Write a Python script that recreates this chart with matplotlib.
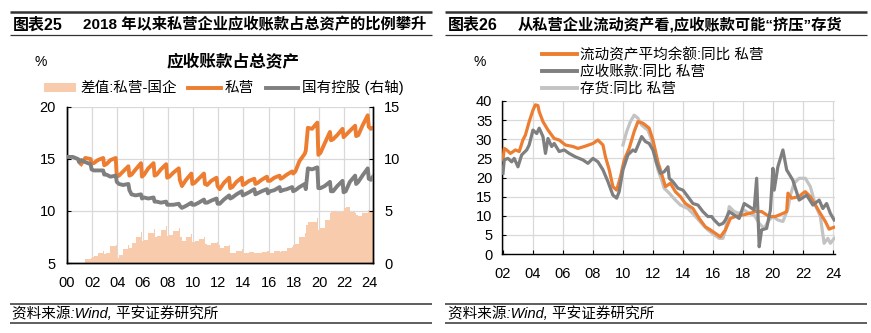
import numpy as np
import pandas as pd
import matplotlib
matplotlib.use("Agg")
import matplotlib.pyplot as plt
import matplotlib.dates as mdates
from matplotlib.lines import Line2D
from matplotlib.patches import Patch

plt.rcParams['font.family'] = ['Liberation Sans', 'Noto Sans CJK SC']

# ---------------- Left panel: receivables / total assets (%) ----------------
ratio_years = list(range(2000, 2025))
ratio_months = [2, 6, 11, 12]        # sampled months within each year
ratio_months_last = [2, 4]           # months available for the final year

nan = np.nan
# 私营 (left axis)
private_ratio = [
    nan, nan, nan, nan,          # 2000
    14.5, 15.1, 15.0, 14.6,      # 2001
    14.6, 14.9, 15.1, 14.4,      # 2002
    14.5, 14.9, 15.1, 13.3,      # 2003
    13.4, 13.8, 14.3, 13.4,      # 2004
    13.5, 14.0, 14.6, 13.3,      # 2005
    13.5, 14.1, 14.6, 13.4,      # 2006
    13.5, 14.0, 14.5, 13.2,      # 2007
    13.3, 13.7, 14.1, 13.0,      # 2008
    12.4, 13.0, 13.6, 12.6,      # 2009
    12.7, 13.1, 13.6, 12.6,      # 2010
    12.5, 12.9, 13.2, 12.4,      # 2011
    12.1, 12.7, 13.2, 12.2,      # 2012
    12.3, 12.8, 13.2, 12.5,      # 2013
    12.6, 12.9, 13.1, 12.6,      # 2014
    12.7, 13.0, 13.3, 12.9,      # 2015
    12.9, 13.2, 13.4, 13.1,      # 2016
    13.2, 13.5, 13.8, 13.6,      # 2017
    13.8, 14.8, 15.5, 15.8,      # 2018
    18.0, 17.9, 18.5, 15.4,      # 2019
    15.6, 16.5, 17.6, 16.8,      # 2020
    16.9, 17.3, 17.9, 17.1,      # 2021
    17.3, 17.7, 18.2, 17.2,      # 2022
    17.3, 18.2, 19.2, 18.1,      # 2023
    17.9, 18.0,                  # 2024
]
# 国有控股 (right axis)
state_ratio = [
    10.2, 10.2, 10.0, 9.7,       # 2000
    9.9, 9.7, 9.5, 9.0,          # 2001
    8.9, 8.9, 8.9, 8.5,          # 2002
    8.5, 8.3, 8.4, 7.8,          # 2003
    7.6, 7.5, 7.6, 7.0,          # 2004
    6.6, 6.5, 6.6, 6.2,          # 2005
    6.3, 6.2, 6.3, 5.9,          # 2006
    5.9, 5.8, 5.9, 5.6,          # 2007
    5.6, 5.6, 5.7, 5.5,          # 2008
    5.3, 5.5, 5.8, 5.6,          # 2009
    5.6, 5.8, 6.1, 5.8,          # 2010
    5.8, 6.0, 6.2, 5.7,          # 2011
    5.7, 6.1, 6.5, 6.2,          # 2012
    6.3, 6.6, 6.9, 6.5,          # 2013
    6.6, 6.8, 7.1, 6.6,          # 2014
    6.7, 6.9, 7.1, 6.7,          # 2015
    6.9, 7.0, 7.3, 6.9,          # 2016
    7.0, 7.1, 7.3, 6.9,          # 2017
    7.0, 7.3, 7.6, 7.1,          # 2018
    9.1, 9.0, 9.2, 7.2,          # 2019
    7.2, 7.4, 7.8, 6.9,          # 2020
    6.9, 7.4, 7.9, 6.8,          # 2021
    6.9, 7.8, 8.4, 7.6,          # 2022
    7.8, 8.4, 9.1, 8.1,          # 2023
    8.0, 8.3,                    # 2024
]

# ---------------- Right panel: YoY growth, private firms (%) ----------------
ca_dates = ["2002-01", "2002-02", "2002-04", "2002-07", "2002-11", "2003-02", "2003-05",
            "2003-07", "2003-10", "2004-01", "2004-03", "2004-05", "2004-06", "2004-09",
            "2005-01", "2005-06", "2005-10", "2006-03", "2006-09", "2007-01", "2007-07",
            "2008-01", "2008-05", "2008-09", "2008-11", "2009-02", "2009-05", "2009-08",
            "2009-11", "2010-02", "2010-06", "2010-10", "2011-01", "2011-05", "2011-07",
            "2011-10", "2012-01", "2012-05", "2012-09", "2012-11", "2013-03", "2013-07",
            "2013-11", "2014-03", "2014-09", "2015-02", "2015-07", "2015-11", "2016-03",
            "2016-07", "2016-11", "2017-03", "2017-07", "2018-01", "2018-06", "2018-11",
            "2019-04", "2019-10", "2020-03", "2020-09", "2020-12", "2021-01", "2021-04",
            "2021-10", "2022-01", "2022-03", "2022-07", "2022-11", "2023-03", "2023-07",
            "2023-10", "2024-01", "2024-02"]
ca_growth = [24.6, 27.6, 27.2, 26.3, 27.2, 26.8, 29.8,
             31.1, 34.6, 37.6, 39.0, 38.8, 37.2, 34.6,
             32.4, 30.2, 29.8, 28.5, 28.1, 27.6, 28.2,
             28.9, 29.8, 28.5, 25.4, 22.0, 17.6, 16.7,
             20.2, 24.6, 27.6, 32.0, 34.6, 34.2, 33.7,
             32.9, 29.8, 24.1, 19.8, 17.6, 18.5, 16.3,
             15.0, 13.2, 11.9, 9.3, 7.1, 6.3, 5.4,
             4.5, 6.3, 9.3, 9.8, 10.2, 10.6, 11.1,
             11.1, 9.8, 9.8, 10.6, 11.1, 15.9, 14.6,
             15.0, 15.9, 16.3, 15.0, 12.8, 10.6, 8.5,
             6.5, 6.9, 7.0]

ar_dates = ["2002-01", "2002-02", "2002-05", "2002-08", "2002-10", "2003-01", "2003-04",
            "2003-08", "2003-10", "2004-01", "2004-04", "2004-06", "2004-09", "2004-11",
            "2005-01", "2005-04", "2005-06", "2005-10", "2006-02", "2006-06", "2006-11",
            "2007-05", "2007-09", "2008-01", "2008-05", "2008-09", "2009-01", "2009-05",
            "2009-08", "2009-10", "2010-01", "2010-05", "2010-09", "2010-11", "2011-04",
            "2011-07", "2011-10", "2012-01", "2012-04", "2012-07", "2012-10", "2013-01",
            "2013-02", "2013-05", "2013-09", "2014-01", "2014-05", "2014-09", "2015-01",
            "2015-05", "2015-09", "2015-12", "2016-02", "2016-06", "2016-09", "2016-11",
            "2017-02", "2017-06", "2017-10", "2018-02", "2018-06", "2018-10", "2018-12",
            "2019-02", "2019-04", "2019-08", "2019-11", "2020-01", "2020-02", "2020-05",
            "2020-09", "2020-12", "2021-05", "2021-10", "2022-04", "2022-09", "2023-02",
            "2023-05", "2023-08", "2023-11", "2024-02"]
ar_growth = [21.1, 24.6, 25.0, 24.1, 25.0, 22.8, 25.9,
             27.2, 28.5, 32.4, 31.5, 32.9, 30.7, 26.3,
             30.2, 28.1, 28.9, 26.8, 27.2, 26.3, 25.4,
             24.6, 23.7, 25.0, 24.1, 22.0, 18.9, 15.4,
             14.6, 16.3, 22.0, 25.9, 27.2, 26.8, 30.7,
             29.4, 28.9, 27.2, 23.7, 21.1, 21.5, 22.8,
             19.8, 18.9, 17.2, 16.7, 15.0, 13.2, 12.8,
             11.1, 9.8, 9.8, 8.9, 7.6, 8.0, 8.9,
             11.1, 10.2, 9.3, 13.2, 12.4, 11.5, 19.8,
             1.9, 6.3, 6.7, 11.5, 22.4, 16.7, 22.8,
             27.2, 22.0, 19.3, 14.1, 15.4, 12.8, 14.1,
             11.9, 13.2, 10.6, 8.9]

inv_dates = ["2010-01", "2010-04", "2010-07", "2010-10", "2011-01", "2011-04", "2011-07",
             "2011-09", "2011-12", "2012-02", "2012-05", "2012-08", "2012-10", "2013-02",
             "2013-07", "2013-11", "2014-05", "2014-10", "2015-04", "2015-09", "2016-02",
             "2016-06", "2016-09", "2016-11", "2017-02", "2017-06", "2017-10", "2018-02",
             "2018-06", "2018-10", "2019-02", "2019-06", "2019-10", "2020-01", "2020-05",
             "2020-09", "2021-01", "2021-03", "2021-06", "2021-10", "2022-03", "2022-07",
             "2022-11", "2023-03", "2023-06", "2023-09", "2023-11", "2024-02"]
inv_growth = [28.5, 32.0, 34.6, 36.3, 35.5, 33.7, 32.9,
              32.4, 29.8, 26.3, 22.0, 19.3, 17.2, 15.9,
              14.1, 12.8, 11.9, 10.2, 8.0, 6.3, 5.0,
              4.1, 4.1, 6.3, 12.4, 11.1, 10.6, 11.5,
              10.6, 10.2, 8.0, 6.7, 8.9, 9.8, 8.9,
              8.5, 11.9, 15.4, 18.5, 19.8, 19.8, 17.6,
              12.8, 9.8, 2.8, 4.1, 2.8, 4.1]

# ---------------- Styles ----------------
ORANGE = '#ED7D31'
DARK_GREY = '#7F7F7F'
LIGHT_GREY = '#C3C3C3'
PEACH = '#F8CBAD'
GRID = '#D9D9D9'
FS_TICK = 10.5
FS_LEG = 10.5

fig = plt.figure(figsize=(8.71, 3.33), dpi=100)


def fig_hline(x0, x1, y, lw):
    fig.add_artist(Line2D([x0, x1], [y, y], transform=fig.transFigure,
                          color='#333333', lw=lw, solid_capstyle='butt'))


# Header and footer rules, captions
for x0, x1 in [(0.0115, 0.496), (0.511, 0.995)]:
    fig_hline(x0, x1, 0.963, 1.8)
    fig_hline(x0, x1, 0.894, 0.9)
    fig_hline(x0, x1, 0.086, 1.1)
    fig_hline(x0, x1, 0.031, 1.1)

fig.text(0.015, 0.925, '图表25', fontsize=11.5, fontweight='bold', va='center')
fig.text(0.0953, 0.925, '2018 年以来私营企业应收账款占总资产的比例攀升',
         fontsize=11, fontweight='bold', va='center')
fig.text(0.514, 0.925, '图表26', fontsize=11.5, fontweight='bold', va='center')
fig.text(0.5947, 0.925, '从私营企业流动资产看,应收账款可能“挤压”存货',
         fontsize=11, fontweight='bold', va='center')
for x in (0.0138, 0.514):
    fig.text(x, 0.057, '资料来源:Wind, 平安证券研究所', fontsize=10.5,
             style='italic', va='center')

# ---------------- Left panel ----------------
ratio_dates = []
for y in ratio_years:
    months = ratio_months if y < ratio_years[-1] else ratio_months_last
    ratio_dates += [pd.Timestamp(y, m, 15) for m in months]
ratio_dates = pd.DatetimeIndex(ratio_dates)
priv = np.array(private_ratio, dtype=float)
soe = np.array(state_ratio, dtype=float)
gap = priv - soe

axL = fig.add_axes([0.0769, 0.2102, 0.3513, 0.4685])
axR = axL.twinx()

xnum = mdates.date2num(ratio_dates)
widths = np.append(np.diff(xnum), 45.0)
ok = ~np.isnan(gap)
axL.bar(ratio_dates[ok], gap[ok], width=widths[ok], align='edge',
        color=PEACH, linewidth=0, zorder=1)
axL.plot(ratio_dates, priv, color=ORANGE, lw=2.8, zorder=3,
         solid_joinstyle='round')
axR.plot(ratio_dates, soe, color=DARK_GREY, lw=2.8, zorder=3,
         solid_joinstyle='round')

axL.set_ylim(5, 20)
axL.set_yticks([5, 10, 15, 20])
axR.set_ylim(0, 15)
axR.set_yticks([0, 5, 10, 15])
axL.set_xlim(pd.Timestamp(2000, 1, 1), pd.Timestamp(2024, 4, 15))
axL.xaxis.set_major_locator(mdates.YearLocator(2))
axL.xaxis.set_major_formatter(mdates.DateFormatter('%y'))
axL.set_axisbelow(True)
axL.grid(True, color=GRID, lw=0.9)
for a in (axL, axR):
    a.spines['top'].set_visible(False)
    for s in ('left', 'right', 'bottom'):
        a.spines[s].set_color('black')
        a.spines[s].set_linewidth(1.0)
    a.tick_params(direction='in', length=3, width=0.8, labelsize=FS_TICK, pad=8)
axL.tick_params(axis='x', pad=9)

fig.text(0.047, 0.814, '%', fontsize=10, ha='center', va='center')
fig.text(0.2675, 0.814, '应收账款占总资产', fontsize=12, fontweight='bold',
         ha='center', va='center')
left_handles = [Patch(facecolor=PEACH, edgecolor='none'),
                Line2D([], [], color=ORANGE, lw=2.8),
                Line2D([], [], color=DARK_GREY, lw=2.8)]
fig.legend(left_handles, ['差值:私营-国企', '私营', '国有控股 (右轴)'],
           loc='center', bbox_to_anchor=(0.257, 0.736), ncol=3, frameon=False,
           fontsize=FS_LEG, handlelength=2.2, handleheight=0.55,
           handletextpad=0.3, columnspacing=0.8, borderpad=0, borderaxespad=0)

# ---------------- Right panel ----------------
ax = fig.add_axes([0.5763, 0.2372, 0.3823, 0.4595])
ax.plot(pd.to_datetime(inv_dates), inv_growth, color=LIGHT_GREY, lw=2.3, zorder=2)
ax.plot(pd.to_datetime(ca_dates), ca_growth, color=ORANGE, lw=2.3, zorder=3)
ax.plot(pd.to_datetime(ar_dates), ar_growth, color=DARK_GREY, lw=2.3, zorder=4)

ax.set_ylim(0, 40)
ax.set_yticks(range(0, 41, 5))
ax.set_xlim(pd.Timestamp(2001, 12, 7), pd.Timestamp(2024, 2, 20))
ax.xaxis.set_major_locator(mdates.YearLocator(2))
ax.xaxis.set_major_formatter(mdates.DateFormatter('%y'))
ax.set_axisbelow(True)
ax.grid(True, color=GRID, lw=0.9)
for s in ('top', 'right'):
    ax.spines[s].set_visible(False)
for s in ('left', 'bottom'):
    ax.spines[s].set_color('black')
    ax.spines[s].set_linewidth(1.0)
ax.tick_params(direction='in', length=3, width=0.8, labelsize=FS_TICK, pad=7)
ax.tick_params(axis='x', pad=9)

fig.text(0.551, 0.814, '%', fontsize=10, ha='center', va='center')
right_handles = [Line2D([], [], color=ORANGE, lw=2.8),
                 Line2D([], [], color=DARK_GREY, lw=2.8),
                 Line2D([], [], color=LIGHT_GREY, lw=2.8)]
fig.legend(right_handles, ['流动资产平均余额:同比 私营', '应收账款:同比 私营', '存货:同比 私营'],
           loc='center left', bbox_to_anchor=(0.622, 0.784), ncol=1, frameon=False,
           fontsize=FS_LEG, handlelength=2.4, handletextpad=0.25,
           labelspacing=0.2, borderpad=0, borderaxespad=0)

fig.savefig('out.png', dpi=100)
